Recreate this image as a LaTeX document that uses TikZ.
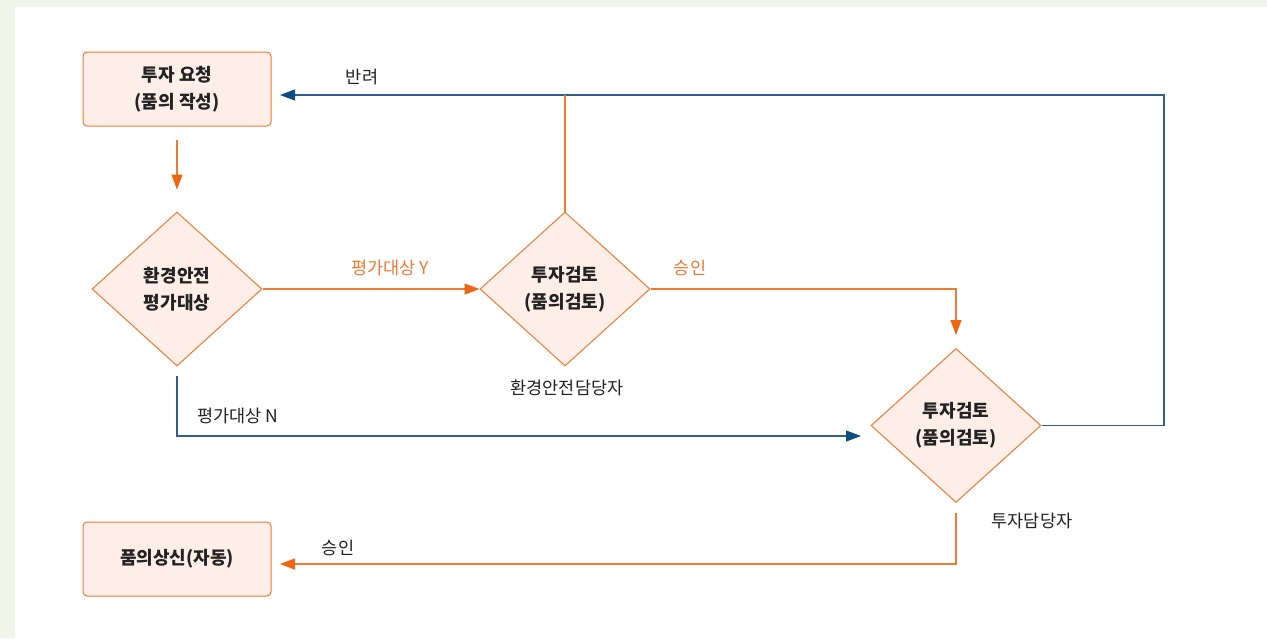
\documentclass[tikz,border=0pt]{standalone}
\usepackage{fontspec}
\setmainfont{Noto Sans CJK KR}
\usetikzlibrary{arrows.meta,shapes.geometric}
\definecolor{bgout}{HTML}{F0F5EA}
\definecolor{ofill}{HTML}{FDEEE7}
\definecolor{oline}{HTML}{EE7A33}
\definecolor{otip}{HTML}{EE6612}
\definecolor{bline}{HTML}{2E5F8E}
\definecolor{btip}{HTML}{0F4C81}
\definecolor{txt}{HTML}{222222}
\definecolor{olab}{HTML}{EE7A33}
\tikzset{
  procbox/.style={draw=oline, fill=ofill, line width=1pt, rounded corners=4pt,
    minimum width=188pt, minimum height=74pt, align=center, inner sep=0pt,
    font=\fontsize{18}{27}\selectfont\bfseries, text=txt},
  decbox/.style={draw=oline, fill=ofill, line width=1pt, diamond, aspect=1.104,
    minimum width=170pt, minimum height=154pt, inner sep=0pt, align=center,
    font=\fontsize{18}{27}\selectfont\bfseries, text=txt},
  oarrow/.style={draw=oline, line width=1.2pt, -{Triangle[length=15pt,width=11pt,fill=otip,color=otip]}},
  barrow/.style={draw=bline, line width=1.2pt, -{Triangle[length=15pt,width=11pt,fill=btip,color=btip]}},
  oconn/.style={draw=oline, line width=1.2pt},
  lab/.style={font=\fontsize{17.5}{20}\selectfont, text=txt, inner sep=0pt},
  olabel/.style={font=\fontsize{17.5}{20}\selectfont, text=olab, inner sep=0pt},
}
\begin{document}
\begin{tikzpicture}[x=1pt,y=-1pt]
\useasboundingbox (0,0) rectangle (1267,638);
\fill[bgout] (0,0) rectangle (1267,638);
\fill[white] (15,7) rectangle (1267,638);

\node[procbox] (req) at (177,89) {투자 요청\\(품의 작성)};
\node[decbox] (env) at (177,289) {환경안전\\평가대상};
\node[decbox] (rev1) at (565,289) {투자검토\\(품의검토)};
\node[decbox] (rev2) at (956,425.5) {투자검토\\(품의검토)};
\node[procbox] (fin) at (177,559) {품의상신(자동)};

\node[lab] (who1) at (567,388) {환경안전담당자};
\node[lab] (who2) at (1032,521) {투자담당자};

% req -> env
\draw[oarrow, shorten <=13pt, shorten >=22pt] (req.south) -- (env.north);

% env -> rev1 (Y)
\draw[oarrow] (env.east) -- (rev1.west);
\node[olabel] (ly) at (390,268) {평가대상 Y};

% rev1 -> rev2 (approve)
\coordinate (c1) at (956,289);
\draw[oarrow, shorten >=13pt] (rev1.east) -- (c1) -- (rev2.north);
\node[olabel] (la1) at (690,268) {승인};

% env -> rev2 (N)
\coordinate (c2) at (177,436);
\coordinate (c2e) at (871,436);
\draw[barrow, shorten >=10pt] ([yshift=-9pt]env.south) -- (c2) -- (c2e);
\node[lab] (ln) at (238,416) {평가대상 N};

% reject loop
\coordinate (c4) at (1164,95);
\coordinate (rq) at (271,95);
\draw[barrow, shorten >=9pt] (rev2.east) -| (c4) -- (rq);
\coordinate (c5) at (565,95);
\draw[oconn] (rev1.north) -- (c5);
\node[lab] (lr) at (362,77) {반려};

% rev2 -> fin
\coordinate (c6) at (956,564);
\coordinate (fe) at (271,564);
\draw[oarrow, shorten >=9pt] ([yshift=-10pt]rev2.south) -- (c6) -- (fe);
\node[lab] (la2) at (338,548) {승인};
\end{tikzpicture}
\end{document}
